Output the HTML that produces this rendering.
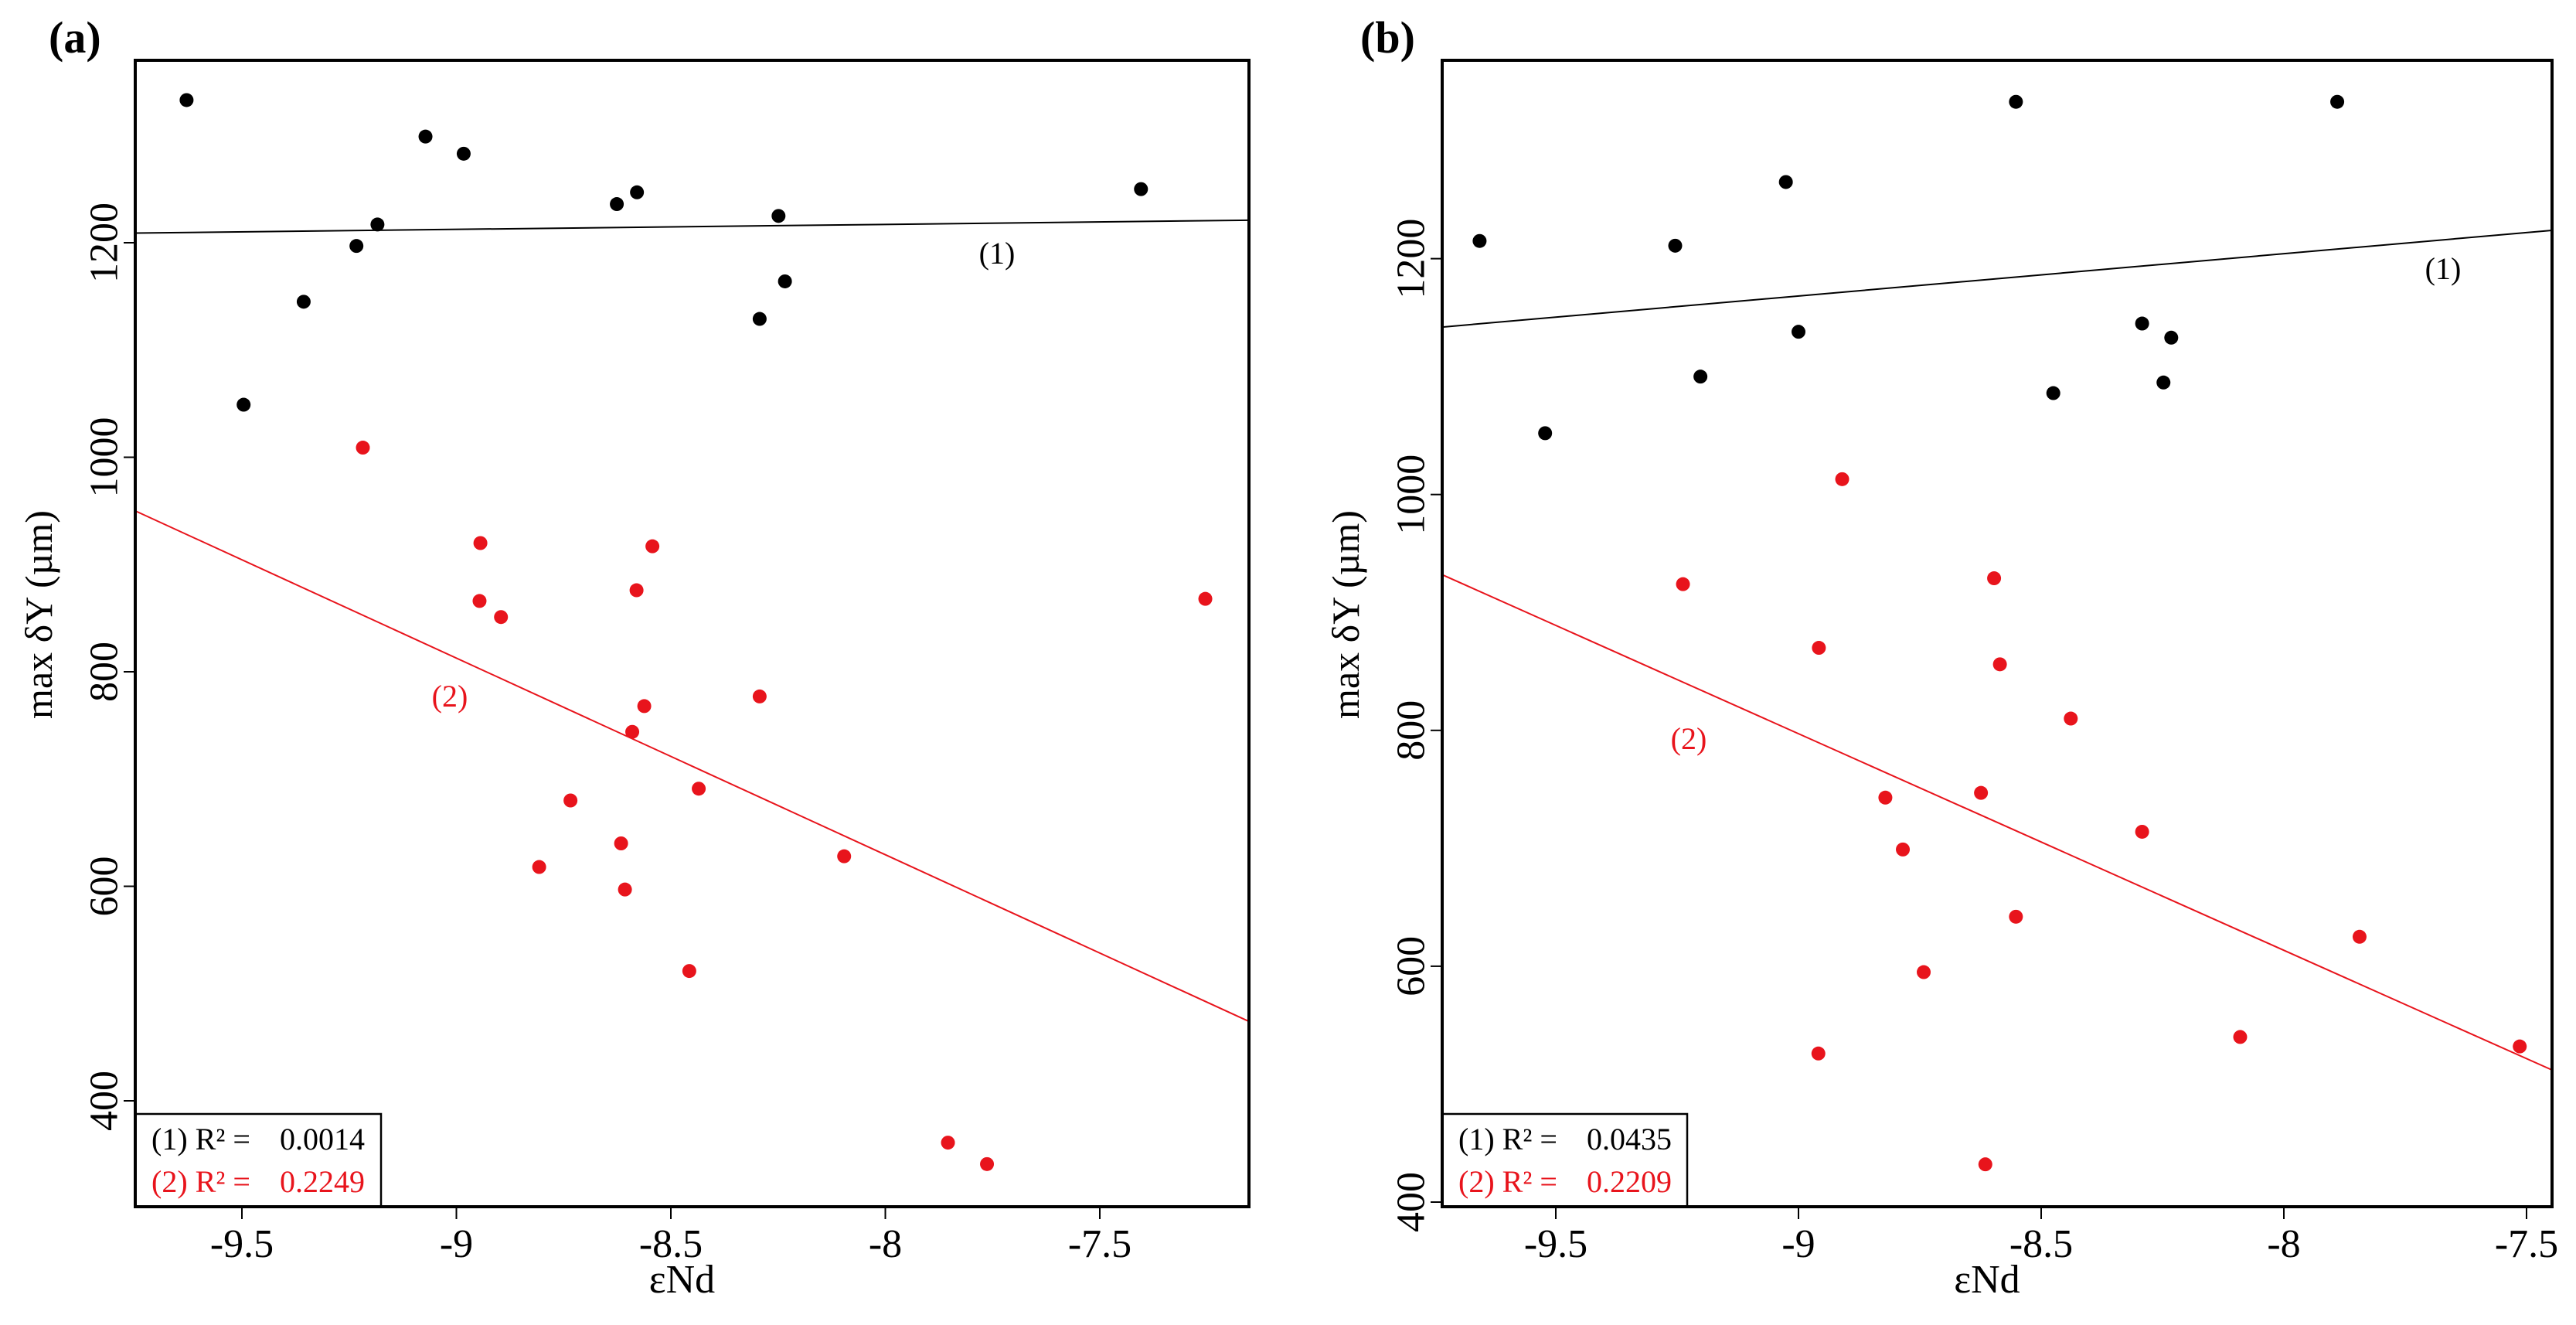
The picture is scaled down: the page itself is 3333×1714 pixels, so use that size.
<!DOCTYPE html>
<html><head><meta charset="utf-8"><style>
html,body{margin:0;padding:0;background:#fff;}
svg{display:block;font-family:"Liberation Serif","DejaVu Serif",serif;}
</style></head><body>
<svg id="fig" width="3333" height="1714" viewBox="0 0 3333 1714" xmlns="http://www.w3.org/2000/svg"></svg>
<script>
// Panel (a) data
const aBlackX = [-9.629,-9.072,-8.983,-8.626,-8.579,-8.249,-7.404,-9.184,-9.233,-9.356,-9.496,-8.234,-8.293];
const aBlackY = [1333,1299,1283,1236,1247,1225,1250,1217,1197,1145,1049,1164,1129];
const aRedX = [-9.218,-8.944,-8.946,-8.896,-8.543,-8.580,-8.562,-8.590,-8.293,-8.435,-8.734,-8.616,-8.807,-8.607,-8.096,-8.457,-7.854,-7.763,-7.254];
const aRedY = [1009,920,866,851,917,876,768,744,777,691,680,640,618,597,628,521,361,341,868];
const aLine1 = [1209, 1221];   // y at left/right x-limits
const aLine2 = [950, 474];
const aR2 = ["0.0014","0.2249"];
// Panel (b) data
const bBlackX = [-9.657,-9.254,-9.026,-8.552,-7.890,-9.522,-9.202,-9.000,-8.475,-8.292,-8.232,-8.248];
const bBlackY = [1215,1211,1265,1333,1333,1052,1100,1138,1086,1145,1133,1095];
const bRedX = [-8.910,-9.238,-8.597,-8.958,-8.585,-8.439,-8.821,-8.624,-8.785,-8.292,-8.552,-8.742,-8.959,-8.090,-7.844,-7.514,-8.615];
const bRedY = [1013,924,929,870,856,810,743,747,699,714,642,595,526,540,625,532,432];
const bLine1 = [1142, 1224];
const bLine2 = [932, 512];
const bR2 = ["0.0435","0.2209"];
const xTicks = [-9.5,-9,-8.5,-8,-7.5];
const xTickLabels = ["-9.5","-9","-8.5","-8","-7.5"];
const yTicks = [400,600,800,1000,1200];
const yTickLabels = ["400","600","800","1000","1200"];

const NS="http://www.w3.org/2000/svg";
const svg=document.getElementById('fig');
function mk(tag,attrs,parent,txt){const e=document.createElementNS(NS,tag);for(const k in attrs)e.setAttribute(k,attrs[k]);if(txt!==undefined)e.textContent=txt;(parent||svg).appendChild(e);return e;}

function panel(o){
  const g=mk('g',{});
  
  
  const L=o.left,R=o.right,T=78,B=1561;
  const sx=v=>o.x0px+(v-(-9.5))*o.xppu;
  const sy=v=>o.y400px-(v-400)*o.yppu;
  const lab=mk('text',{x:o.labX,y:68,'font-size':58,'font-weight':'bold'},g,o.label);
  
  
  const l1=mk('line',{x1:L,y1:sy(o.line1[0]),x2:R,y2:sy(o.line1[1]),stroke:'#000','stroke-width':2},g);
  
  
  const l2=mk('line',{x1:L,y1:sy(o.line2[0]),x2:R,y2:sy(o.line2[1]),stroke:'#e8141c','stroke-width':2},g);
  
  
  o.bx.forEach((v,i)=>{const c=mk('circle',{cx:sx(v),cy:sy(o.by[i]),r:9,fill:'#000'},g);
    
    });
  o.rx.forEach((v,i)=>{const c=mk('circle',{cx:sx(v),cy:sy(o.ry[i]),r:9,fill:'#e8141c'},g);
    
    });
  const t1=mk('text',{x:o.lab1[0],y:o.lab1[1],'font-size':40,'text-anchor':'middle','dominant-baseline':'middle',fill:'#000'},g,'(1)');
  
  
  const t2=mk('text',{x:o.lab2[0],y:o.lab2[1],'font-size':40,'text-anchor':'middle','dominant-baseline':'middle',fill:'#e8141c'},g,'(2)');
  
  
  const lg=mk('g',{},g);
  
  
  mk('rect',{x:L,y:1441,width:o.legW,height:B-1441,fill:'#fff',stroke:'#000','stroke-width':2.5},lg);
  const e1=mk('text',{x:L+21,y:1487,'font-size':40,fill:'#000'},lg,'(1) R² =');
  
  
  mk('text',{x:L+187,y:1487,'font-size':40,fill:'#000'},lg,o.r2[0]);
  const e2=mk('text',{x:L+21,y:1542,'font-size':40,fill:'#e8141c'},lg,'(2) R² =');
  
  
  mk('text',{x:L+187,y:1542,'font-size':40,fill:'#e8141c'},lg,o.r2[1]);
  const fr=mk('rect',{x:L,y:T,width:R-L,height:B-T,fill:'none',stroke:'#000','stroke-width':4},g);
  
  
  xTicks.forEach((v,i)=>{const X=sx(v);if(X<L||X>R)return;
    mk('line',{x1:X,y1:B,x2:X,y2:B+16,stroke:'#000','stroke-width':2},g);
    const t=mk('text',{x:X,y:1626,'font-size':52,'text-anchor':'middle'},g,xTickLabels[i]);
    
    });
  yTicks.forEach((v,i)=>{const Y=sy(v);
    mk('line',{x1:L-15,y1:Y,x2:L,y2:Y,stroke:'#000','stroke-width':2},g);
    const t=mk('text',{x:L-40,y:Y,'font-size':52,'text-anchor':'middle','dominant-baseline':'central',transform:`rotate(-90 ${L-40} ${Y})`},g,yTickLabels[i]);
    
    });
  const xt=mk('text',{x:(L+R)/2-13,y:1672,'font-size':52,'text-anchor':'middle'},g,'εNd');
  
  
  const yx=L-125,yy=795;
  const yt=mk('text',{x:yx,y:yy,'font-size':50,'text-anchor':'middle','dominant-baseline':'central',transform:`rotate(-90 ${yx} ${yy})`},g,'max δY (µm)');
  
  
}

panel({name:'panel-a',label:'(a)',labX:63,left:175,right:1616,x0px:313,xppu:555,y400px:1424,yppu:1.3875,
  bx:aBlackX,by:aBlackY,rx:aRedX,ry:aRedY,line1:aLine1,line2:aLine2,r2:aR2,legW:318,
  lab1:[1290,332],lab2:[582,905]});
panel({name:'panel-b',label:'(b)',labX:1760,left:1866,right:3302,x0px:2013,xppu:628,y400px:1555,yppu:1.5255,
  bx:bBlackX,by:bBlackY,rx:bRedX,ry:bRedY,line1:bLine1,line2:bLine2,r2:bR2,legW:317,
  lab1:[3161,352],lab2:[2185,960]});
</script>
</body></html>
